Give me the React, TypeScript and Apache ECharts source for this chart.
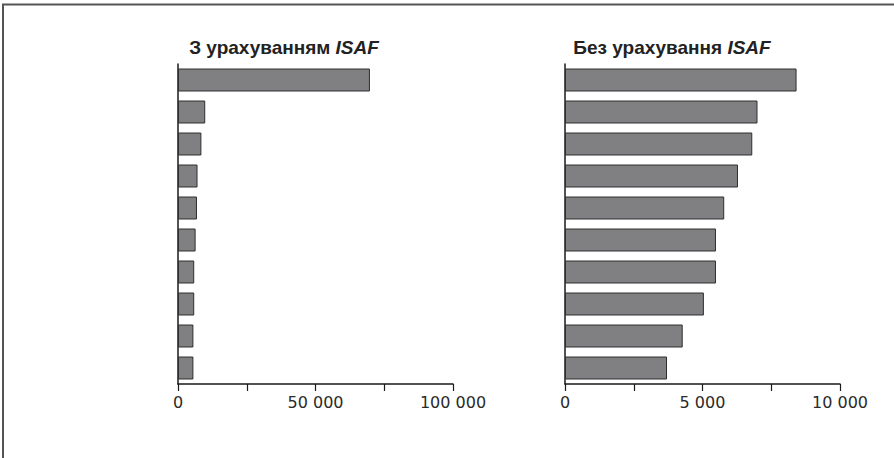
import React, { useEffect, useRef } from "react";
import * as echarts from "echarts";

const categories = ["1", "2", "3", "4", "5", "6", "7", "8", "9", "10"];
const withIsaf = [69800, 9900, 8500, 7100, 6900, 6400, 5900, 5900, 5600, 5600];
const withoutIsaf = [8420, 7000, 6810, 6290, 5790, 5490, 5490, 5050, 4280, 3710];
const leftTitle = ["З урахуванням ", "ISAF"];
const rightTitle = ["Без урахування ", "ISAF"];
const leftTicks = [0, 50000, 100000];
const rightTicks = [0, 5000, 10000];

const fmt = (v: number) =>
  String(v).replace(/\B(?=(\d{3})+(?!\d))/g, " ");

export default function App() {
  const ref = useRef<HTMLDivElement>(null);
  useEffect(() => {
    document.body.style.margin = "0";
    const chart = echarts.init(ref.current!, null, { renderer: "svg" });
    const axisLine = { show: true, lineStyle: { color: "#1a1a1a", width: 1.5 } };
    const makeX = (gridIndex: number, max: number, interval: number, ticks: number[]) => ({
      type: "value",
      gridIndex,
      min: 0,
      max,
      interval,
      splitLine: { show: false },
      axisLine,
      axisTick: { show: true, length: 7, lineStyle: { color: "#1a1a1a", width: 1.2 } },
      axisLabel: {
        margin: 10,
        fontFamily: "DejaVu Sans",
        fontSize: 16,
        color: "#2a2a2a",
        formatter: (v: number) => (ticks.includes(v) ? fmt(v) : ""),
      },
    });
    const makeY = (gridIndex: number) => ({
      type: "category",
      gridIndex,
      data: categories,
      inverse: true,
      axisLine,
      axisTick: { show: false },
      axisLabel: { show: false },
    });
    const barStyle = { color: "#808083", borderColor: "#2e2e2e", borderWidth: 1 };
    const titleStyle = {
      rich: {
        b: { fontFamily: "Liberation Sans", fontWeight: "bold", fontSize: 19, color: "#222" },
        bi: {
          fontFamily: "Liberation Sans",
          fontWeight: "bold",
          fontStyle: "italic",
          fontSize: 19,
          color: "#222",
        },
      },
    };
    chart.setOption({
      animation: false,
      backgroundColor: "#fff",
      title: [
        {
          text: `{b|${leftTitle[0]}}{bi|${leftTitle[1]}}`,
          left: 279,
          top: 33,
          textAlign: "center",
          textStyle: titleStyle,
        },
        {
          text: `{b|${rightTitle[0]}}{bi|${rightTitle[1]}}`,
          left: 667,
          top: 33,
          textAlign: "center",
          textStyle: titleStyle,
        },
      ],
      grid: [
        { left: 178, top: 64, width: 275, height: 320 },
        { left: 565, top: 64, width: 275, height: 320 },
      ],
      xAxis: [makeX(0, 100000, 25000, leftTicks), makeX(1, 10000, 2500, rightTicks)],
      yAxis: [makeY(0), makeY(1)],
      series: [
        {
          type: "bar",
          xAxisIndex: 0,
          yAxisIndex: 0,
          data: withIsaf,
          barWidth: 23,
          itemStyle: barStyle,
        },
        {
          type: "bar",
          xAxisIndex: 1,
          yAxisIndex: 1,
          data: withoutIsaf,
          barWidth: 23,
          itemStyle: barStyle,
        },
      ],
      graphic: [
        {
          type: "line",
          shape: { x1: 2, y1: 4.5, x2: 894, y2: 4.5 },
          style: { stroke: "#555", lineWidth: 2 },
        },
        {
          type: "line",
          shape: { x1: 3, y1: 4, x2: 3, y2: 458 },
          style: { stroke: "#555", lineWidth: 2 },
        },
      ],
    });
    return () => chart.dispose();
  }, []);
  return <div ref={ref} style={{ width: 894, height: 458 }} />;
}
